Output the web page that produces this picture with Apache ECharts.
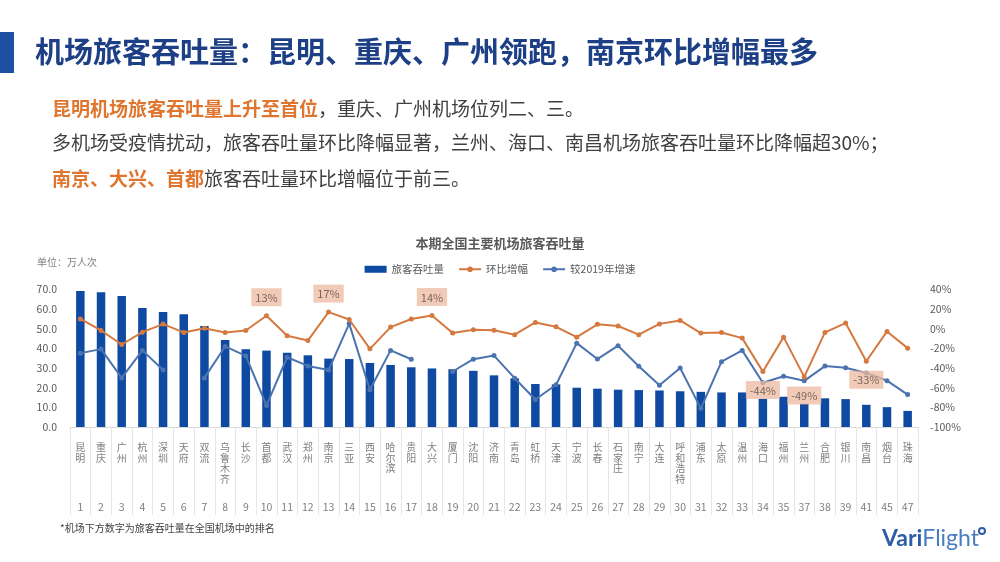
<!DOCTYPE html>
<html>
<head>
<meta charset="utf-8">
<script src="https://cdn.jsdelivr.net/npm/echarts@6/dist/echarts.min.js"></script>
<style>
  html, body { margin: 0; padding: 0; background: #fff; }
  #chart { width: 1000px; height: 562px; }
</style>
</head>
<body>
<div id="chart"></div>
<script>
// 机场（横轴）
const airports = ['昆明', '重庆', '广州', '杭州', '深圳', '天府', '双流', '乌鲁木齐', '长沙', '首都',
  '武汉', '郑州', '南京', '三亚', '西安', '哈尔滨', '贵阳', '大兴', '厦门', '沈阳',
  '济南', '青岛', '虹桥', '天津', '宁波', '长春', '石家庄', '南宁', '大连', '呼和浩特',
  '浦东', '太原', '温州', '海口', '福州', '兰州', '合肥', '银川', '南昌', '烟台', '珠海']
// 全国排名
const ranks = ['1', '2', '3', '4', '5', '6', '7', '8', '9', '10', '11', '12', '13', '14', '15', '16', '17',
  '18', '19', '20', '21', '22', '23', '24', '25', '26', '27', '28', '29', '30', '31', '32', '33', '34',
  '35', '37', '38', '39', '41', '45', '47']
// 旅客吞吐量（万人次）
const passengers = [69.2, 68.6, 66.7, 60.6, 58.6, 57.4, 51.4, 44.3, 39.6, 38.9,
  37.8, 36.5, 34.8, 34.6, 32.6, 31.6, 30.4, 29.8, 29.4, 28.6,
  26.3, 24.8, 21.9, 21.7, 20.0, 19.5, 19.0, 18.8, 18.6, 18.2,
  17.9, 17.6, 17.6, 14.3, 15.4, 11.8, 14.6, 14.2, 11.3, 10.1, 8.2]
// 环比增幅（%）
const momGrowth = [10, -1.7, -16, -3.4, 4.8, -3.7, 0.5, -3.7, -1.7, 13.3,
  -7, -12, 17, 9.5, -20.4, 1.7, 10, 13.6, -4.4, -1,
  -1.5, -6, 6.5, 2, -8.5, 4.5, 2.8, -6, 5, 8.5,
  -4.4, -3.7, -9.5, -43.6, -8.5, -49, -3.7, 5.8, -33, -2.7, -19.7]
// 较2019年增速（%），天府、大兴无数据
const vs2019 = [-24.8, -20.7, -50, -22, -42, null, -50, -18, -27.6, -78,
  -29, -37.8, -42, 5.3, -62, -22, -31, null, -43.5, -31,
  -27.3, -50.3, -72, -57, -14.6, -30.8, -17.2, -38.2, -57.5, -40,
  -81, -33.5, -22, -55, -48.3, -53, -38, -39.7, -45, -52.8, -67]
// 标注数值的机场
const labelled = ['首都', '南京', '大兴', '海口', '兰州', '南昌']

const FONT = '"Noto Sans CJK SC", "Noto Sans", sans-serif'
const ORANGE = '#D5793F'
const BLUE_LINE = '#4A73B0'
const BAR = '#0F4AA2'

const chart = echarts.init(document.getElementById('chart'))

const momData = momGrowth.map((v, i) => {
  if (!labelled.includes(airports[i])) return v
  return {
    value: v,
    label: {
      show: true,
      position: v >= 0 ? 'top' : 'bottom',
      distance: 7,
      formatter: (p) => Math.round(p.value) + '%',
      backgroundColor: 'rgba(236,185,160,0.75)',
      padding: [4, 4, 3, 4],
      color: '#7a665c',
      fontSize: 11,
      fontFamily: FONT
    }
  }
})

chart.setOption({
  textStyle: { fontFamily: FONT },
  animation: false,
  title: {
    text: '本期全国主要机场旅客吞吐量',
    left: 'center',
    top: 232,
    textStyle: { fontSize: 13, fontWeight: 'bold', color: '#595959', fontFamily: FONT }
  },
  legend: {
    top: 259,
    left: 'center',
    itemWidth: 22,
    itemHeight: 7,
    itemGap: 14,
    textStyle: { fontSize: 10.5, color: '#595959' },
    data: [
      { name: '旅客吞吐量', icon: 'rect' },
      { name: '环比增幅' },
      { name: '较2019年增速' }
    ]
  },
  grid: { left: 70, right: 82, top: 289.5, bottom: 135 },
  xAxis: [
    {
      type: 'category',
      data: airports,
      axisLine: { lineStyle: { color: '#d9d9d9' } },
      axisTick: { show: true, length: 88, lineStyle: { color: '#e6e6e6' } },
      axisLabel: {
        interval: 0,
        margin: 15,
        fontSize: 10,
        lineHeight: 10.5,
        color: '#7f7f7f',
        verticalAlign: 'top',
        formatter: (v) => v.split('').join('\n')
      }
    },
    {
      type: 'category',
      data: ranks,
      position: 'bottom',
      axisLine: { show: false },
      axisTick: { show: false },
      axisLabel: { interval: 0, margin: 75, fontSize: 10.5, color: '#7f7f7f', verticalAlign: 'top' }
    }
  ],
  yAxis: [
    {
      type: 'value',
      min: 0,
      max: 70,
      interval: 10,
      splitLine: { show: false },
      axisLine: { show: false },
      axisLabel: { margin: 13, fontSize: 10.5, color: '#595959', formatter: (v) => v.toFixed(1) }
    },
    {
      type: 'value',
      min: -100,
      max: 40,
      interval: 20,
      splitLine: { show: false },
      axisLine: { show: false },
      axisLabel: { margin: 12, fontSize: 10.5, color: '#595959', formatter: '{value}%' }
    }
  ],
  series: [
    {
      name: '旅客吞吐量',
      type: 'bar',
      data: passengers,
      barWidth: 8.5,
      itemStyle: { color: BAR }
    },
    {
      name: '环比增幅',
      type: 'line',
      yAxisIndex: 1,
      data: momData,
      symbol: 'circle',
      symbolSize: 5,
      lineStyle: { color: ORANGE, width: 2 },
      itemStyle: { color: ORANGE },
      z: 4
    },
    {
      name: '较2019年增速',
      type: 'line',
      yAxisIndex: 1,
      data: vs2019,
      symbol: 'circle',
      symbolSize: 5,
      lineStyle: { color: BLUE_LINE, width: 2 },
      itemStyle: { color: BLUE_LINE },
      z: 3
    }
  ],
  graphic: [
    { type: 'rect', shape: { x: 0, y: 32, width: 14, height: 41 }, style: { fill: '#1E4FA3' } },
    {
      type: 'text', left: 35, top: 37,
      style: {
        text: '机场旅客吞吐量：昆明、重庆、广州领跑，南京环比增幅最多',
        font: 'bold 29px ' + FONT, fill: '#1D3F86'
      }
    },
    {
      type: 'text', left: 52, top: 99,
      style: {
        text: '{o|昆明机场旅客吞吐量上升至首位}{n|，重庆、广州机场位列二、三。}',
        rich: {
          o: { fontSize: 19, fontWeight: 'bold', fill: '#DF762F', fontFamily: FONT },
          n: { fontSize: 19, fill: '#404040', fontFamily: FONT }
        }
      }
    },
    {
      type: 'text', left: 52, top: 133,
      style: {
        text: '多机场受疫情扰动，旅客吞吐量环比降幅显著，兰州、海口、南昌机场旅客吞吐量环比降幅超30%；',
        font: '19px ' + FONT, fill: '#404040'
      }
    },
    {
      type: 'text', left: 52, top: 169,
      style: {
        text: '{o|南京、大兴、首都}{n|旅客吞吐量环比增幅位于前三。}',
        rich: {
          o: { fontSize: 19, fontWeight: 'bold', fill: '#DF762F', fontFamily: FONT },
          n: { fontSize: 19, fill: '#404040', fontFamily: FONT }
        }
      }
    },
    {
      type: 'text', left: 37, top: 257,
      style: { text: '单位：万人次', font: '10px ' + FONT, fill: '#7f7f7f' }
    },
    {
      type: 'text', left: 60, top: 523,
      style: { text: '*机场下方数字为旅客吞吐量在全国机场中的排名', font: '10px ' + FONT, fill: '#404040' }
    },
    {
      type: 'text', right: 21, top: 527,
      style: {
        text: '{a|Vari}{b|Flight}',
        rich: {
          a: { fontSize: 23, fontWeight: 'bold', fill: '#2C5DA6', fontFamily: 'Lato, sans-serif' },
          b: { fontSize: 23, fill: '#4A7CC2', fontFamily: 'Lato, sans-serif' }
        }
      }
    },
    { type: 'circle', shape: { cx: 982, cy: 531, r: 3 }, style: { fill: '#fff', stroke: '#2C5DA6', lineWidth: 2 } }
  ]
})
</script>
</body>
</html>
